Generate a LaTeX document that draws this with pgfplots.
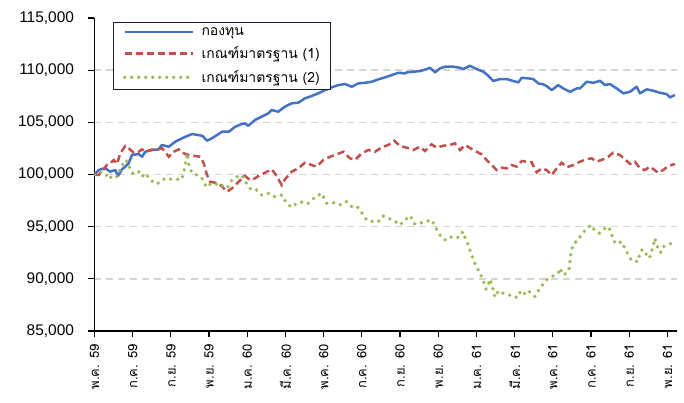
\documentclass[border=0pt]{standalone}
\usepackage{fontspec}
\setmainfont{Liberation Sans}
\newfontfamily\thai[Script=Thai]{Loma}
\usepackage{pgfplots}
\pgfplotsset{compat=1.18}
\definecolor{cblue}{RGB}{68,114,196}
\definecolor{cred}{RGB}{192,80,77}
\definecolor{cgreen}{RGB}{155,187,89}
\definecolor{cframe}{RGB}{20,30,50}
\begin{document}
\begin{tikzpicture}
\path[use as bounding box] (-94.5bp,-72bp) rectangle (589.5bp,331bp);
\begin{axis}[
  at={(0,0)}, anchor=south west,
  scale only axis, width=582.5bp, height=313bp,
  xmin=0, xmax=30.5, ymin=85000, ymax=115000,
  axis x line*=bottom, axis y line*=left,
  axis line style={black, line width=1.6bp},
  xtick={0,2,...,30},
  xticklabels={พ.ค. 59, ก.ค. 59, ก.ย. 59, พ.ย. 59, ม.ค. 60, มี.ค. 60, พ.ค. 60, ก.ค. 60, ก.ย. 60, พ.ย. 60, ม.ค. 61, มี.ค. 61, พ.ค. 61, ก.ค. 61, ก.ย. 61, พ.ย. 61},
  x tick label style={rotate=90, anchor=east, font=\thai\fontsize{13}{13}\selectfont},
  xticklabel shift=4bp,
  scaled y ticks=false, scaled x ticks=false,
  ytick={85000,90000,95000,100000,105000,110000},
  yticklabels={85{,}000,90{,}000,95{,}000,100{,}000,105{,}000,110{,}000},
  extra y ticks={115000}, extra y tick labels={115{,}000}, extra y tick style={grid=none},
  ymajorgrids, grid style={dash pattern=on 7bp off 5bp, line width=1.5bp, color=black!17},
  tick align=outside, major tick length=6bp,
  tick style={black, line width=1.2bp},
  y tick label style={font=\fontsize{15.5}{15.5}\selectfont, xshift=-11bp},
  legend style={at={(0.0322,0.9875)}, anchor=north west, draw=cframe, line width=1bp,
    font=\thai\fontsize{14}{14}\selectfont, row sep=6bp, inner xsep=9bp, inner ysep=3bp,
    cells={anchor=west}},
  legend image code/.code={\draw[#1] (0bp,0bp) -- (68bp,0bp);},
]
\addplot[cblue, line width=2.5bp, line join=round] coordinates {
(0,100000) (0.22,100430) (0.55,100620) (0.81,100270) (1.09,100430) (1.23,99860) (1.44,100500)
(1.61,100750) (1.79,101070) (1.96,101870) (2.31,101960) (2.49,101700) (2.66,102180) (3.01,102350)
(3.36,102410) (3.53,102830) (3.88,102660) (4.23,103140) (4.58,103470) (5.10,103880) (5.46,103780)
(5.66,103690) (5.89,103240) (6.15,103470) (6.68,104100) (7.03,104100) (7.37,104580) (7.72,104840)
(7.88,104900) (8.05,104670) (8.40,105220) (8.75,105540) (9.10,105860) (9.28,106180) (9.62,106020)
(9.97,106500) (10.32,106820) (10.67,106880) (11.02,107300) (11.37,107520) (11.72,107780) (12.07,108090)
(12.42,108350) (12.76,108570) (13.12,108670) (13.47,108410) (13.81,108730) (14.16,108790) (14.51,108890)
(14.86,109120) (15.21,109310) (15.56,109530) (15.91,109750) (16.26,109690) (16.35,109790) (16.69,109850)
(17.04,109910) (17.39,110100) (17.57,110230) (17.83,109790) (18.09,110170) (18.35,110330) (18.79,110330)
(19.14,110230) (19.31,110100) (19.66,110420) (20.01,110100) (20.36,109850) (20.62,109460) (20.88,108960)
(21.23,109150) (21.58,109150) (21.93,108960) (22.19,108830) (22.37,109270) (22.71,109210) (22.97,109150)
(23.24,108730) (23.50,108640) (23.67,108480) (23.94,108090) (24.28,108570) (24.54,108250) (24.90,107930)
(25.25,108250) (25.42,108250) (25.77,108890) (26.12,108790) (26.47,108980) (26.73,108570) (26.99,108670)
(27.34,108250) (27.69,107780) (28.04,107930) (28.39,108410) (28.56,107780) (28.91,108160) (29.26,108030)
(29.61,107830) (29.96,107710) (30.13,107390) (30.39,107620)
};
\addlegendentry{\hspace{5bp}กองทุน}
\addplot[cred, line width=2.5bp, dash pattern=on 7bp off 4bp] coordinates {
(0,100000) (0.22,99950) (0.39,100270) (0.65,100910) (0.83,101070) (1.01,101390) (1.18,101010)
(1.35,102030) (1.61,102730) (1.79,102510) (2.05,102090) (2.31,102180) (2.49,102410) (2.66,102180)
(2.92,102350) (3.27,102410) (3.53,102510) (3.71,102180) (3.88,101700) (4.15,102180) (4.41,102410)
(4.58,102090) (4.93,101870) (5.28,101770) (5.54,101700) (5.72,101070) (5.89,99950) (6.06,99310)
(6.32,99210) (6.59,98990) (6.76,98680) (6.94,98350) (7.20,98680) (7.55,99310) (7.88,99870)
(8.14,99470) (8.40,99630) (8.66,99950) (8.93,100170) (9.28,100500) (9.54,99860) (9.80,98990)
(9.97,99530) (10.32,100270) (10.67,100590) (11.02,101130) (11.37,100910) (11.63,100750) (11.98,101390)
(12.33,101700) (12.68,101930) (13.03,102180) (13.38,101550) (13.64,101390) (13.99,102030) (14.34,102350)
(14.69,102180) (15.04,102600) (15.38,102830) (15.70,103240) (15.99,102730) (16.35,102570) (16.69,102350)
(17.04,102660) (17.30,102250) (17.65,102890) (17.92,102570) (18.26,102760) (18.61,102830) (18.87,102990)
(19.14,102350) (19.40,102830) (19.75,102440) (20.01,102180) (20.27,101930) (20.53,101390) (20.80,100910)
(21.06,100430) (21.32,100650) (21.58,100590) (21.84,100910) (22.11,100750) (22.37,101290) (22.63,101230)
(22.89,101170) (23.15,100210) (23.41,100590) (23.67,100430) (23.94,99950) (24.20,100590) (24.46,101130)
(24.72,100690) (25.07,100910) (25.42,101230) (25.77,101460) (26.03,101550) (26.29,101230) (26.64,101460)
(26.90,101700) (27.16,102090) (27.51,101870) (27.77,101460) (28.04,101010) (28.30,101230) (28.56,100590)
(28.82,100430) (29.08,100750) (29.52,100170) (29.78,100430) (30.04,100810) (30.39,101010)
};
\addlegendentry{\hspace{5bp}เกณฑ์มาตรฐาน (1)}
\addplot[cgreen, line width=3.8bp, line cap=round, dash pattern=on 0bp off 7bp] coordinates {
(0,100000) (0.30,100270) (0.57,100110) (0.74,99570) (1.01,99950) (1.18,99790) (1.35,100590)
(1.61,101390) (1.79,101070) (1.87,100360) (2.05,100050) (2.31,100270) (2.49,99790) (2.66,100110)
(2.92,99470) (3.27,99090) (3.53,99470) (3.71,99630) (4.06,99540) (4.58,99540) (4.75,100910)
(4.84,102030) (4.96,100750) (5.10,100170) (5.37,99950) (5.63,99630) (5.80,98990) (5.89,98770)
(6.06,99090) (6.24,98990) (6.50,99150) (6.76,98830) (6.94,98680) (7.20,99470) (7.46,99790)
(7.72,99950) (8.00,99000) (8.23,98500) (8.49,98510) (8.75,98040) (9.10,98200) (9.45,97870)
(9.80,98040) (10.06,97240) (10.32,96860) (10.59,97240) (10.93,97400) (11.19,97240) (11.54,97820)
(11.90,98200) (12.16,97240) (12.50,97300) (12.85,97080) (13.20,97400) (13.47,96920) (13.73,96980)
(13.99,96340) (14.25,95640) (14.60,95480) (14.86,95480) (15.12,96020) (15.38,95800) (15.64,95640)
(15.99,95160) (16.26,95640) (16.52,96050) (16.78,95230) (17.04,95330) (17.30,95480) (17.65,95640)
(17.83,95000) (18.09,94210) (18.35,93730) (18.61,94040) (18.87,93890) (19.14,94040) (19.28,94520)
(19.40,93950) (19.57,93250) (19.75,92290) (19.87,91650) (20.18,90540) (20.36,89800) (20.50,89010)
(20.62,89420) (20.71,89970) (20.80,89520) (20.97,88240) (21.14,88840) (21.40,88620) (21.72,88460)
(21.93,88240) (22.19,88240) (22.31,88870) (22.54,88560) (22.71,88870) (23.06,88300) (23.32,89100)
(23.67,89900) (23.94,90210) (24.28,90540) (24.37,91020) (24.54,90370) (24.72,90540) (24.86,91020)
(24.93,92290) (25.07,93340) (25.33,93730) (25.51,94300) (25.77,94750) (25.98,95160) (26.15,94750)
(26.43,94370) (26.64,94750) (26.90,95000) (27.08,94370) (27.13,93730) (27.34,93340) (27.60,93560)
(27.86,92600) (28.13,91740) (28.47,91650) (28.56,92510) (28.70,92830) (28.91,92290) (29.05,91970)
(29.17,92600) (29.35,93890) (29.43,93250) (29.64,92510) (29.78,93090) (30.04,93250) (30.30,93500)
};
\addlegendentry{\hspace{5bp}เกณฑ์มาตรฐาน (2)}
\end{axis}
\end{tikzpicture}
\end{document}
